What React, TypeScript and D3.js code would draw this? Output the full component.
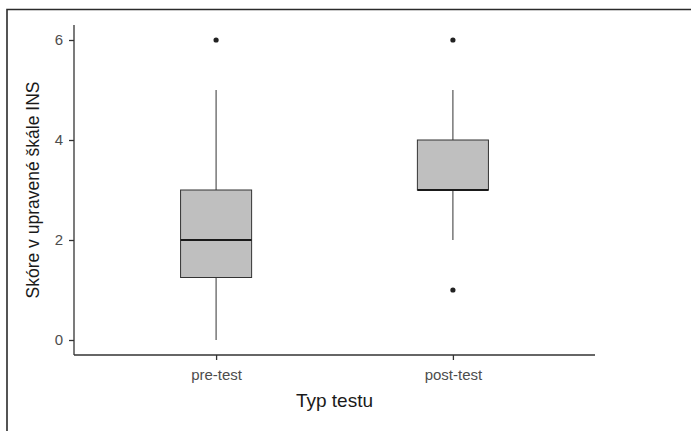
import React, { useRef, useEffect } from 'react';
import * as d3 from 'd3';

const categories = ['pre-test', 'post-test'];
const q1 = [1.25, 3];
const medians = [2, 3];
const q3 = [3, 4];
const whiskerLow = [0, 2];
const whiskerHigh = [5, 5];
const outliers = [[6], [6, 1]];
const yTicks = [0, 2, 4, 6];

const App = () => {
  const ref = useRef<SVGSVGElement>(null);

  useEffect(() => {
    const svg = d3.select(ref.current);
    svg.selectAll('*').remove();

    const width = 691;
    const height = 431;
    const margin = { top: 25, right: 96, bottom: 76, left: 74 };
    const font = 'Liberation Sans, Arial, sans-serif';

    // ggplot-style discrete axis: positions 1..n, expanded by 0.6
    const x = d3.scaleLinear()
      .domain([0.4, categories.length + 0.6])
      .range([margin.left, width - margin.right]);

    const y = d3.scaleLinear()
      .domain([-0.3, 6.3])
      .range([height - margin.bottom, margin.top]);

    const boxHalf = 0.15;
    const ink = '#333333';

    // frame
    svg.append('path')
      .attr('d', `M7,${height} L7,9.5 L${width},9.5`)
      .attr('fill', 'none')
      .attr('stroke', '#2b2b2b')
      .attr('stroke-width', 1.6);

    const data = categories.map((c, i) => ({
      c, pos: i + 1, q1: q1[i], med: medians[i], q3: q3[i],
      lo: whiskerLow[i], hi: whiskerHigh[i], out: outliers[i]
    }));

    const g = svg.append('g');
    data.forEach(d => {
      const cx = x(d.pos);
      g.append('line')
        .attr('x1', cx).attr('x2', cx)
        .attr('y1', y(d.q3)).attr('y2', y(d.hi))
        .attr('stroke', ink).attr('stroke-width', 1);
      g.append('line')
        .attr('x1', cx).attr('x2', cx)
        .attr('y1', y(d.q1)).attr('y2', y(d.lo))
        .attr('stroke', ink).attr('stroke-width', 1);
      g.append('rect')
        .attr('x', x(d.pos - boxHalf))
        .attr('width', x(d.pos + boxHalf) - x(d.pos - boxHalf))
        .attr('y', y(d.q3))
        .attr('height', y(d.q1) - y(d.q3))
        .attr('fill', '#bfbfbf')
        .attr('stroke', ink)
        .attr('stroke-width', 1);
      g.append('line')
        .attr('x1', x(d.pos - boxHalf)).attr('x2', x(d.pos + boxHalf))
        .attr('y1', y(d.med)).attr('y2', y(d.med))
        .attr('stroke', '#1a1a1a').attr('stroke-width', 2.2);
      d.out.forEach(o => {
        g.append('circle')
          .attr('cx', cx).attr('cy', y(o)).attr('r', 2.6)
          .attr('fill', '#222');
      });
    });

    // axes
    const yAxis = svg.append('g')
      .attr('transform', `translate(${margin.left},0)`)
      .call(d3.axisLeft(y).tickValues(yTicks).tickSize(5).tickPadding(6).tickFormat(d3.format('d')));
    const xAxis = svg.append('g')
      .attr('transform', `translate(0,${height - margin.bottom})`)
      .call(d3.axisBottom(x).tickValues(categories.map((_, i) => i + 1)).tickSize(5).tickPadding(9)
        .tickFormat((d) => categories[(d as number) - 1]));

    [yAxis, xAxis].forEach(a => {
      a.select('.domain').attr('stroke', ink).attr('stroke-width', 1.3)
        .attr('d', a === yAxis
          ? `M0,${y(6.3)}V${y(-0.3)}`
          : `M${x(0.4)},0H${x(categories.length + 0.6)}`);
      a.selectAll('.tick line').attr('stroke', ink).attr('stroke-width', 1.3);
      a.selectAll('.tick text')
        .attr('fill', '#4d4d4d')
        .style('font-family', font)
        .style('font-size', '15px');
    });

    svg.append('text')
      .attr('x', (margin.left + width - margin.right) / 2)
      .attr('y', 407)
      .attr('text-anchor', 'middle')
      .attr('fill', '#1a1a1a')
      .style('font-family', font)
      .style('font-size', '19px')
      .text('Typ testu');

    svg.append('text')
      .attr('transform', `translate(39,${(margin.top + height - margin.bottom) / 2}) rotate(-90)`)
      .attr('text-anchor', 'middle')
      .attr('fill', '#1a1a1a')
      .style('font-family', font)
      .style('font-size', '17.5px')
      .text('Skóre v upravené škále INS');
  }, []);

  return (
    <svg ref={ref} width={691} height={431}
      style={{ position: 'absolute', left: 0, top: 0, background: '#fff' }} />
  );
};

export default App;
